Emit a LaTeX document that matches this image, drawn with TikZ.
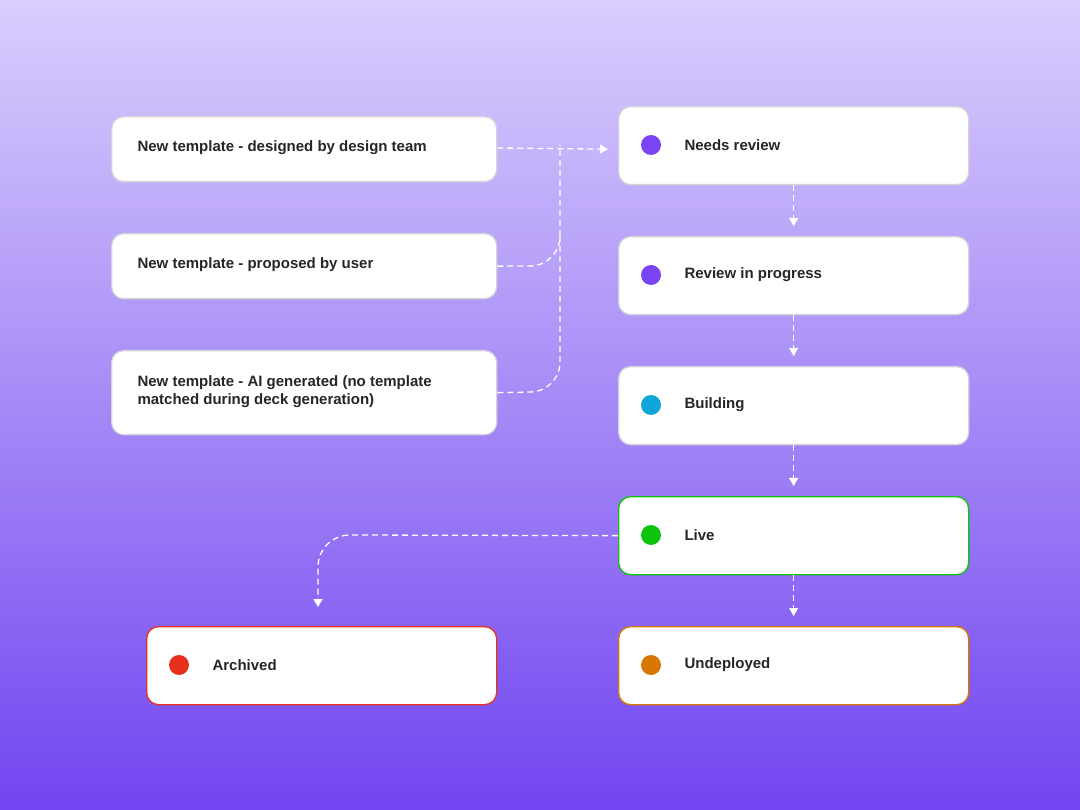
\documentclass[tikz,border=0pt]{standalone}
\usepackage{fontspec}
\setmainfont{Liberation Sans}
\usetikzlibrary{arrows.meta}
\definecolor{bgtop}{HTML}{D9CEFD}
\definecolor{bgbot}{HTML}{7145F0}
\definecolor{edge}{HTML}{D4D4D8}
\definecolor{dotpurple}{HTML}{7A43F5}
\definecolor{dotcyan}{HTML}{0EA5D9}
\definecolor{dotgreen}{HTML}{0BC40B}
\definecolor{dotred}{HTML}{E8301F}
\definecolor{dotorange}{HTML}{D97706}
\tikzset{
  box/.style={draw=edge, line width=1.3pt, fill=white, rounded corners=12pt, anchor=north west, inner sep=0pt},
  txt/.style={font=\fontsize{15}{18}\selectfont\bfseries, text=black!85, anchor=west, align=left},
  dot/.style={circle, fill=#1, minimum size=20pt, inner sep=0pt},
  flow/.style={draw=white, line width=1.3pt, dash pattern=on 6pt off 4pt},
  arr/.style={flow, -{Triangle[length=8pt,width=9pt,fill=white]}}
}
\begin{document}
\begin{tikzpicture}[x=1pt,y=-1pt]
\shade[top color=bgtop, bottom color=bgbot] (0,0) rectangle (1080,810);
\useasboundingbox (0,0) rectangle (1080,810);

% sources
\node[box, minimum width=385pt, minimum height=65pt] (design) at (111,116) {};
\node[txt] (designtxt) at (134,148) {New template - designed by design team};
\node[box, minimum width=385pt, minimum height=65pt] (user) at (111,233) {};
\node[txt] (usertxt) at (134,265) {New template - proposed by user};
\node[box, minimum width=385pt, minimum height=84pt] (ai) at (111,350) {};
\node[txt] (aitxt) at (134,392) {New template - AI generated (no template\\matched during deck generation)};

% states
\foreach \name/\y/\col/\edg/\lab in {review/106/dotpurple/edge/Needs review,
    progress/236/dotpurple/edge/Review in progress,
    building/366/dotcyan/edge/Building,
    live/496/dotgreen/dotgreen/Live,
    undeployed/626/dotorange/dotorange/Undeployed}{
  \node[box, draw=\edg, minimum width=350pt, minimum height=78pt] (\name) at (618,\y) {};
  \node[dot=\col] (\name dot) at (651,\y+39) {};
  \node[txt] (\name txt) at (681,\y+39) {\lab};
}
\node[box, draw=dotred, minimum width=350pt, minimum height=78pt] (archived) at (146,626) {};
\node[dot=dotred] (archiveddot) at (179,665) {};
\node[txt] (archivedtxt) at (209,665) {Archived};

% connectors
\coordinate (join) at (560,145);
\coordinate (archend) at (318,607);
\draw[arr] (design.east |- designtxt) -- ([xshift=-10pt]review.west |- design.east);
\draw[flow] (user.east) -- (530,266) to[out=0,in=-90] (560,236) -- (join);
\draw[flow] (ai.east) -- (530,392) to[out=0,in=-90] (560,362) -- (560,236);
\foreach \a/\b in {review/progress, progress/building, building/live, live/undeployed}{
  \draw[arr] (\a.south) -- ([yshift=10pt]\b.north);
}
\draw[arr] (live.west) -- (350,535) to[out=180,in=90] (318,567) -- (archend);
\end{tikzpicture}
\end{document}
